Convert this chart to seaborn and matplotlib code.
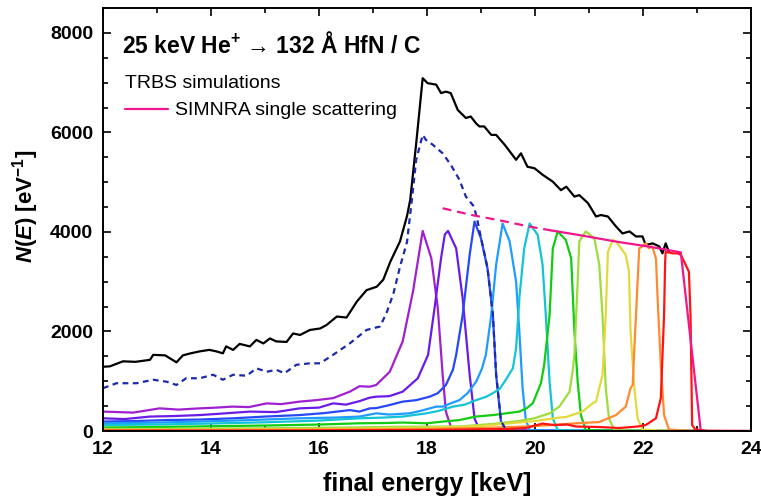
import matplotlib
matplotlib.use('Agg')
import matplotlib.pyplot as plt
import seaborn as sns
import pandas as pd
from matplotlib.ticker import MultipleLocator

# ---------------- data ----------------
E_total = [12.0, 12.13, 12.37, 12.6, 12.87, 12.93, 13.15, 13.36, 13.48, 13.62, 13.79, 13.97, 14.1, 14.22,
           14.28, 14.41, 14.53, 14.72, 14.84, 14.97, 15.09, 15.21, 15.40, 15.52, 15.65, 15.83, 16.02, 16.14,
           16.33, 16.51, 16.70, 16.88, 17.07, 17.19, 17.32, 17.50, 17.63, 17.69, 17.80, 17.92, 18.01, 18.17,
           18.26, 18.35, 18.44, 18.57, 18.72, 18.81, 18.91, 18.97, 19.06, 19.19, 19.28, 19.44, 19.65, 19.74,
           19.86, 19.99, 20.14, 20.33, 20.48, 20.58, 20.73, 20.82, 20.98, 21.13, 21.22, 21.35, 21.50, 21.62,
           21.75, 21.87, 21.99, 22.05, 22.18, 22.30, 22.36, 22.42, 22.48]
N_total = [1290, 1300, 1400, 1390, 1430, 1530, 1520, 1380, 1520, 1560, 1600, 1630, 1600, 1560,
           1700, 1630, 1750, 1700, 1830, 1760, 1860, 1800, 1790, 1960, 1930, 2030, 2060, 2130,
           2300, 2280, 2600, 2830, 2900, 3040, 3400, 3810, 4320, 4650, 5780, 7090, 6990, 6960,
           6790, 6820, 6790, 6450, 6290, 6320, 6180, 6120, 6120, 5950, 5950, 5750, 5450, 5580,
           5310, 5280, 5150, 5010, 4840, 4910, 4710, 4740, 4580, 4310, 4340, 4310, 4110, 3970,
           4010, 3910, 3910, 3740, 3770, 3710, 3570, 3770, 3600]

E_sum = [12.0, 12.25, 12.62, 12.93, 13.18, 13.36, 13.54, 13.79, 14.04, 14.22, 14.41, 14.66, 14.84, 15.03,
         15.21, 15.36, 15.58, 15.83, 16.02, 16.26, 16.57, 16.88, 17.13, 17.25, 17.38, 17.50, 17.63, 17.72,
         17.80, 17.92, 17.98, 18.11, 18.29, 18.44, 18.60, 18.72, 18.87, 18.93, 19.00, 19.12, 19.22, 19.28,
         19.37, 19.46]
N_sum = [860, 960, 960, 1030, 990, 925, 1060, 1060, 1130, 1030, 1130, 1110, 1260, 1190,
         1230, 1160, 1330, 1360, 1360, 1530, 1760, 2030, 2100, 2370, 2770, 3300, 3800, 4650,
         5450, 5950, 5850, 5750, 5580, 5350, 5050, 4710, 4510, 4250, 3880, 3280, 2340, 1140,
         200, 30]

E_l1 = [12.0, 12.56, 13.05, 13.4, 13.79, 14.1, 14.40, 14.7, 15.03, 15.3, 15.64, 15.95, 16.26, 16.57, 16.75,
        16.94, 17.06, 17.31, 17.55, 17.74, 17.92, 18.08, 18.20, 18.29, 18.35, 18.45, 18.6, 19.0, 20.0, 23.0]
N_l1 = [390, 370, 455, 430, 455, 470, 490, 480, 555, 540, 590, 620, 660, 790, 900,
        890, 925, 1190, 1800, 2800, 4020, 3470, 2470, 1130, 390, 55, 15, 8, 5, 0]

E_l2 = [12.0, 12.4, 12.87, 13.3, 13.79, 14.2, 14.72, 15.2, 15.64, 16.0, 16.26, 16.5, 16.75, 16.94, 17.06,
        17.3, 17.55, 17.83, 18.02, 18.14, 18.26, 18.33, 18.39, 18.54, 18.66, 18.79, 18.88, 18.97, 19.2, 20.0, 23.0]
N_l2 = [255, 240, 290, 300, 320, 350, 390, 380, 455, 470, 555, 530, 600, 670, 690,
        700, 790, 1060, 1530, 2470, 3470, 3950, 4020, 3670, 2670, 1130, 255, 25, 10, 5, 0]

E_l3 = [12.0, 12.6, 13.18, 13.8, 14.41, 15.0, 15.64, 16.1, 16.57, 16.75, 16.94, 17.06, 17.3, 17.55, 17.8,
        18.05, 18.2, 18.35, 18.48, 18.54, 18.66, 18.79, 18.88, 19.00, 19.12, 19.22, 19.28, 19.37, 19.46,
        19.7, 20.5, 23.0]
N_l3 = [190, 200, 220, 230, 255, 290, 320, 360, 420, 390, 455, 460, 520, 590, 620,
        690, 760, 925, 1230, 1530, 2330, 3540, 4210, 3870, 3270, 2330, 1130, 190, 20,
        10, 5, 0]

E_l4 = [12.0, 12.8, 13.79, 14.6, 15.64, 16.3, 16.75, 17.06, 17.3, 17.68, 17.9, 18.17, 18.29, 18.45, 18.60,
        18.75, 18.91, 19.02, 19.09, 19.19, 19.28, 19.40, 19.53, 19.65, 19.71, 19.77, 19.83, 19.90, 20.2,
        21.0, 23.0]
N_l4 = [155, 165, 190, 215, 255, 270, 290, 355, 330, 355, 410, 490, 490, 560, 620,
        760, 990, 1260, 1530, 2330, 3340, 4170, 3810, 3000, 2000, 860, 220, 20, 10,
        5, 0]

E_l5 = [12.0, 13.0, 14.0, 15.0, 16.0, 16.75, 17.2, 17.55, 17.99, 18.2, 18.48, 18.7, 18.91, 19.1, 19.22,
        19.35, 19.46, 19.59, 19.65, 19.71, 19.80, 19.90, 20.05, 20.14, 20.20, 20.27, 20.33, 20.42, 20.7,
        21.5, 23.0]
N_l5 = [120, 130, 150, 175, 210, 255, 270, 290, 355, 400, 490, 530, 620, 690, 760,
        850, 1030, 1260, 1660, 2670, 3670, 4170, 3940, 3340, 2330, 990, 255, 20, 10,
        5, 0]

E_l6 = [12.0, 13.0, 14.0, 15.0, 16.0, 16.75, 17.2, 17.55, 17.99, 18.3, 18.60, 18.9, 19.22, 19.5, 19.71,
        19.85, 19.96, 20.02, 20.11, 20.17, 20.27, 20.33, 20.42, 20.57, 20.67, 20.73, 20.79, 20.85, 20.94,
        21.3, 22.0, 23.0]
N_l6 = [70, 80, 95, 110, 130, 155, 160, 170, 155, 190, 220, 290, 320, 360, 390,
        460, 560, 720, 960, 1330, 2330, 3670, 4010, 3840, 3470, 2000, 990, 320, 20,
        10, 5, 0]

E_l7 = [12.0, 13.5, 15.0, 16.5, 17.5, 18.6, 19.2, 19.7, 20.0, 20.27, 20.45, 20.64, 20.70, 20.73, 20.79,
        20.82, 20.94, 21.10, 21.19, 21.25, 21.31, 21.37, 21.47, 21.8, 23.0]
N_l7 = [40, 45, 55, 70, 85, 90, 140, 200, 260, 355, 490, 790, 1230, 1530, 3000,
        3810, 4010, 3870, 3340, 2330, 860, 255, 20, 8, 0]

E_l8 = [12.0, 14.0, 16.0, 18.0, 19.0, 19.53, 20.0, 20.45, 20.57, 20.88, 21.07, 21.13, 21.25, 21.31, 21.35,
        21.44, 21.50, 21.68, 21.74, 21.77, 21.84, 21.90, 21.99, 22.3, 23.0]
N_l8 = [25, 30, 40, 70, 100, 155, 200, 270, 280, 390, 560, 590, 1130, 2330, 3600,
        3840, 3810, 3540, 3200, 2000, 860, 255, 30, 8, 0]

E_l9 = [12.0, 14.0, 16.0, 18.0, 19.0, 19.83, 20.3, 20.76, 21.19, 21.50, 21.68, 21.77, 21.81, 21.84, 21.90,
        21.93, 21.99, 22.05, 22.11, 22.17, 22.24, 22.27, 22.33, 22.39, 22.48, 22.8, 23.0]
N_l9 = [15, 18, 25, 40, 60, 90, 120, 155, 180, 320, 490, 860, 930, 1660, 3000,
        3670, 3710, 3770, 3670, 3710, 3470, 2670, 1330, 320, 30, 10, 0]

E_l10 = [12.0, 15.0, 18.0, 19.5, 19.83, 20.14, 20.35, 20.6, 20.76, 21.2, 21.56, 21.9, 22.05, 22.24, 22.33,
         22.39, 22.41, 22.42, 22.55, 22.64, 22.70, 22.79, 22.85, 22.88, 22.91, 22.97, 23.2, 24.0]
N_l10 = [5, 8, 20, 40, 60, 150, 120, 130, 90, 80, 60, 90, 120, 255, 660,
         2330, 3400, 3600, 3570, 3570, 3540, 3340, 3200, 2330, 120, 30, 5, 0]

E_simnra_ext = [18.29, 18.82, 19.40, 19.90, 20.30]
N_simnra_ext = [4476, 4342, 4221, 4107, 4030]
E_simnra = [20.30, 20.88, 21.50, 22.11, 22.70, 23.07, 24.0]
N_simnra = [4030, 3926, 3806, 3705, 3590, 0, 0]

layer_E = [E_l1, E_l2, E_l3, E_l4, E_l5, E_l6, E_l7, E_l8, E_l9, E_l10]
layer_N = [N_l1, N_l2, N_l3, N_l4, N_l5, N_l6, N_l7, N_l8, N_l9, N_l10]
layer_colors = ['#A020D0', '#6A1CE6', '#2848F8', '#1E9CFF', '#14C4D4',
                '#12CC12', '#9EDC3C', '#E2DA3C', '#FF8A30', '#FF1414']

title_text = '25 keV He$^{\\mathbf{+}}$ \u2192 132 \u00c5 HfN / C'
legend_title = 'TRBS simulations'
legend_label = 'SIMNRA single scattering'
x_label = 'final energy [keV]'

# ---------------- style ----------------
sns.set_style('ticks')
plt.rcParams['font.family'] = ['Liberation Sans', 'DejaVu Sans']
plt.rcParams['text.color'] = 'black'
plt.rcParams['axes.labelcolor'] = 'black'
plt.rcParams['xtick.color'] = 'black'
plt.rcParams['ytick.color'] = 'black'
plt.rcParams['legend.labelcolor'] = 'black'
plt.rcParams['mathtext.fontset'] = 'custom'
plt.rcParams['mathtext.rm'] = 'Liberation Sans:bold'
plt.rcParams['mathtext.bf'] = 'Liberation Sans:bold'
plt.rcParams['mathtext.it'] = 'Liberation Sans:italic:bold'
has_bfit = 'mathtext.bfit' in plt.rcParams
if has_bfit:
    plt.rcParams['mathtext.bfit'] = 'Liberation Sans:italic:bold'
    y_label = r'$\mathbfit{N}$($\mathbfit{E}$) [eV$^{\mathbf{-1}}$]'
else:
    y_label = r'$\mathit{N}$($\mathit{E}$) [eV$^{\mathbf{-1}}$]'

W, H = 761, 501
L, R, T, B = 103, 751, 8, 431
fig = plt.figure(figsize=(W / 100, H / 100), dpi=100)
ax = fig.add_axes([L / W, 1 - B / H, (R - L) / W, (B - T) / H])

lw = 1.6
sns.lineplot(x=E_total, y=N_total, color='black', lw=lw, ax=ax)
for e, n, c in zip(layer_E, layer_N, layer_colors):
    sns.lineplot(x=e, y=n, color=c, lw=lw, ax=ax)
sns.lineplot(x=E_sum, y=N_sum, color='#1C2AA8', lw=lw, linestyle=(0, (2.6, 2.0)), ax=ax)
sns.lineplot(x=E_simnra_ext, y=N_simnra_ext, color='#F0168C', lw=lw, linestyle=(0, (4.0, 2.6)), ax=ax)
sns.lineplot(x=E_simnra, y=N_simnra, color='#F0168C', lw=lw, ax=ax, label=legend_label)

ax.set_xlim(12, 24)
ax.set_ylim(0, 8500)
ax.xaxis.set_major_locator(MultipleLocator(2))
ax.xaxis.set_minor_locator(MultipleLocator(1))
ax.yaxis.set_major_locator(MultipleLocator(2000))
ax.yaxis.set_minor_locator(MultipleLocator(500))
ax.tick_params(which='both', direction='in', top=True, right=True, width=1.2, color='black',
               labelcolor='black')
ax.tick_params(which='major', length=5.5)
ax.tick_params(which='minor', length=3.5)
ax.tick_params(axis='x', which='major', pad=7, labelsize=14)
ax.tick_params(axis='y', which='major', pad=7, labelsize=14)
for lab in ax.get_xticklabels() + ax.get_yticklabels():
    lab.set_fontweight('bold')
for sp in ax.spines.values():
    sp.set_visible(True)
    sp.set_linewidth(1.4)
    sp.set_color('black')

ax.set_xlabel(x_label, fontsize=18, fontweight='bold', labelpad=10, color='black')
ax.set_ylabel(y_label, fontsize=16, fontweight='bold', color='black')
ax.yaxis.set_label_coords((41 - L) / (R - L), (B - 206) / (B - T))

ax.text(19 / (R - L), (B - 45) / (B - T), title_text, transform=ax.transAxes, fontsize=16.5,
        fontweight='bold', va='center', ha='left', color='black')

leg = ax.legend(loc='upper left', bbox_to_anchor=(22 / (R - L), (B - 75) / (B - T)), frameon=False,
                title=legend_title, alignment='left', fontsize=14, title_fontsize=14,
                handlelength=2.2, handletextpad=0.35, borderpad=0, borderaxespad=0,
                labelspacing=0.3)
leg.get_title().set_color('black')
leg._legend_box.sep = 7

fig.savefig('out.png', dpi=100)
